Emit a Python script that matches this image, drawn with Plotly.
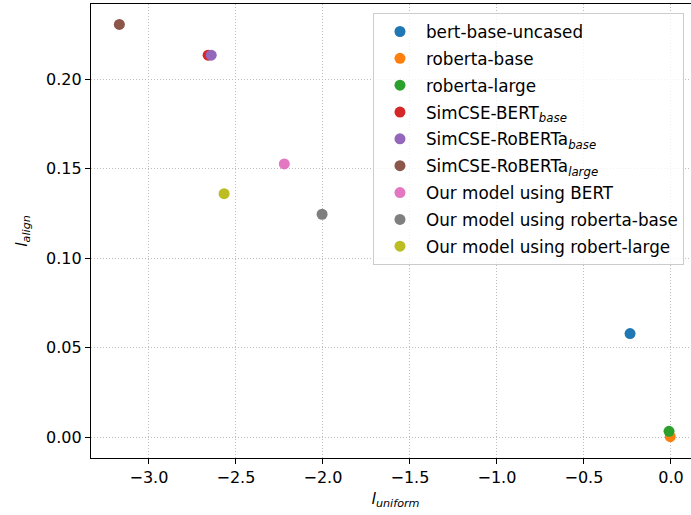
import plotly.graph_objects as go

models = [
    "bert-base-uncased",
    "roberta-base",
    "roberta-large",
    "SimCSE-BERT<sub><i>base</i></sub>",
    "SimCSE-RoBERTa<sub><i>base</i></sub>",
    "SimCSE-RoBERTa<sub><i>large</i></sub>",
    "Our model using BERT",
    "Our model using roberta-base",
    "Our model using robert-large",
]
l_uniform = [-0.235, -0.004, -0.011, -2.660, -2.642, -3.170, -2.222, -2.005, -2.568]
l_align = [0.0580, 0.0004, 0.0034, 0.2134, 0.2134, 0.2306, 0.1527, 0.1246, 0.1361]
colors = ["#1f77b4", "#ff7f0e", "#2ca02c", "#d62728", "#9467bd",
          "#8c564b", "#e377c2", "#7f7f7f", "#bcbd22"]

x_ticks = [-3.0, -2.5, -2.0, -1.5, -1.0, -0.5, 0.0]
x_tick_text = ["\u22123.0", "\u22122.5", "\u22122.0", "\u22121.5", "\u22121.0", "\u22120.5", "0.0"]
y_ticks = [0.00, 0.05, 0.10, 0.15, 0.20]
y_tick_text = ["0.00", "0.05", "0.10", "0.15", "0.20"]

fig = go.Figure()
for i, (name, xv, yv, c) in enumerate(zip(models, l_uniform, l_align, colors)):
    fig.add_trace(go.Scatter(
        x=[xv], y=[yv], mode="markers", name=name, legendgroup=f"g{i}",
        marker=dict(color=c, size=11, line=dict(width=0)),
    ))

font = dict(family="DejaVu Sans", size=16, color="#000000")
grid = dict(showgrid=True, gridcolor="#bcbcbc", griddash="1px,2px", gridwidth=1)
fig.update_layout(
    width=700, height=515,
    margin=dict(l=91, r=0, t=4, b=57),
    paper_bgcolor="white", plot_bgcolor="white",
    font=font,
    showlegend=True,
    legend=dict(
        x=0.463, y=0.98, xanchor="left", yanchor="top",
        bgcolor="rgba(255,255,255,0.8)", bordercolor="#cccccc", borderwidth=1,
        font=dict(family="DejaVu Sans", size=16.8, color="#000000"),
        itemwidth=42, tracegroupgap=2,
    ),
    xaxis=dict(
        range=[-3.333, 0.167], automargin=False,
        tickvals=x_ticks, ticktext=x_tick_text,
        zeroline=False,
        showline=True, linecolor="black", linewidth=1.3, mirror=True,
        ticks="outside", ticklen=5, tickcolor="black", tickwidth=1,
        title=dict(text="<i>l<sub>uniform</sub></i>", font=dict(family="DejaVu Sans", size=16), standoff=6),
        **grid,
    ),
    yaxis=dict(
        range=[-0.0115, 0.242], automargin=False,
        tickvals=y_ticks, ticktext=y_tick_text,
        zeroline=False,
        showline=True, linecolor="black", linewidth=1.3, mirror=False,
        ticks="outside", ticklen=5, tickcolor="black", tickwidth=1,
        title=dict(text="<i>l<sub>align</sub></i>", font=dict(family="DejaVu Sans", size=16), standoff=14),
        **grid,
    ),
)

fig.write_html("out.html", config={"displayModeBar": False},
               post_script="document.body.style.margin='0';document.body.style.overflow='hidden';")
